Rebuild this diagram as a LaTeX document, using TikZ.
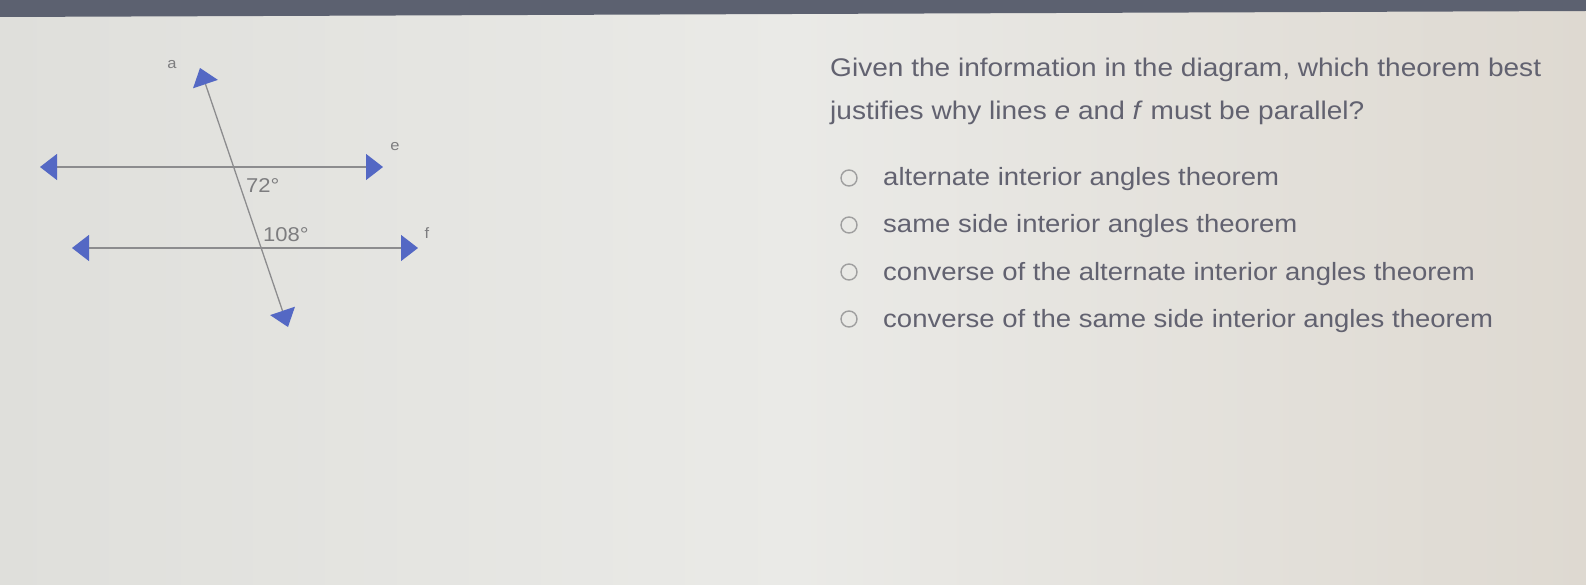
\documentclass[tikz,border=0pt]{standalone}
\usepackage{fontspec}
\setmainfont{Liberation Sans}[FakeStretch=1.1]
\usetikzlibrary{arrows.meta,positioning}
\definecolor{tipblue}{RGB}{84,104,196}
\definecolor{linegray}{RGB}{140,140,142}
\definecolor{textgray}{RGB}{98,98,112}
\definecolor{labelgray}{RGB}{125,125,127}
\definecolor{bezel}{RGB}{92,97,112}
\definecolor{bgleft}{RGB}{223,223,219}
\definecolor{bgmid}{RGB}{234,234,231}
\definecolor{bgright}{RGB}{222,217,209}
\tikzset{
  ray/.style      = {draw=linegray, line width=1.3pt,
                     {Triangle[length=17pt,width=26pt,color=tipblue]}-{Triangle[length=17pt,width=26pt,color=tipblue]}},
  degree/.style   = {font=\fontsize{20}{24}\selectfont, text=labelgray, inner sep=0pt, anchor=base west},
  linename/.style = {font=\fontsize{15}{18}\selectfont, text=labelgray, inner sep=0pt},
  question/.style = {font=\fontsize{25}{30}\selectfont, text=textgray, inner sep=0pt, anchor=base west},
  radio/.style    = {circle, draw=gray!75, line width=1.4pt, minimum size=16pt, inner sep=0pt}
}

\begin{document}
\begin{tikzpicture}[x=1pt,y=-1pt]

% screen background and bezel
\useasboundingbox (0,0) rectangle (1586,585);
\shade[left color=bgleft, right color=bgright, middle color=bgmid] (0,0) rectangle (1586,585);
\fill[bezel] (0,0) -- (1586,0) -- (1586,11) -- (0,17) -- cycle;

% end points of the three lines
\coordinate (a1) at (200,68);
\coordinate (a2) at (288,327);
\coordinate (e1) at (40,167);
\coordinate (e2) at (383,167);
\coordinate (f1) at (72,248);
\coordinate (f2) at (418,248);

\draw[ray] (a2) -- (a1);
\draw[ray] (e2) -- (e1);
\draw[ray] (f2) -- (f1);

% line names and angles
\node[linename] (la) at (172,65) {a};
\node[linename] (le) at (395,147) {e};
\node[linename] (lf) at (427,233) {f};
\node[degree] (d72) at (246,193) {72°};
\node[degree] (d108) at (263,241) {108°};

% question
\node[question, font=\fontsize{25.5}{30}\selectfont] (q1) at (830,77) {Given the information in the diagram, which theorem best};
\node[question, font=\fontsize{25.5}{30}\selectfont] (q2) at (830,120) {justifies why lines \textit{e} and \textit{f} must be parallel?};

% answer choices
\foreach \txt [count=\i] in {alternate interior angles theorem,
                             same side interior angles theorem,
                             converse of the alternate interior angles theorem,
                             converse of the same side interior angles theorem}
{
  \node[radio] (radio\i) at (849,131+47*\i) {};
  \node[question] (option\i) at (883,139+47*\i) {\txt};
}
\end{tikzpicture}
\end{document}
